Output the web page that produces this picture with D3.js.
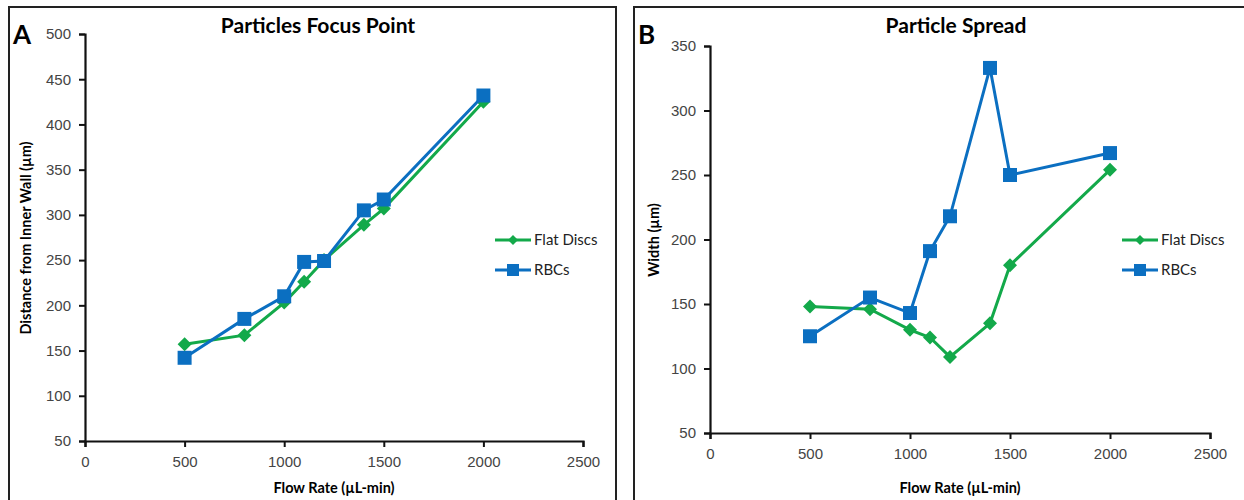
<!DOCTYPE html>
<html>
<head>
<meta charset="utf-8">
<script src="https://cdn.jsdelivr.net/npm/d3@7"></script>
<style>
  body { margin: 0; background: white; }
  svg { font-family: Lato, "Open Sans", sans-serif; }
</style>
</head>
<body>
<svg width="1244" height="500"></svg>
<script>
// data
var flowRates = [500, 800, 1000, 1100, 1200, 1400, 1500, 2000];
var xTicks = [0, 500, 1000, 1500, 2000, 2500];
var seriesNames = ["Flat Discs", "RBCs"];

var focusFlat = [157, 167, 203, 226, 250, 289, 307, 425];
var focusRbc = [142, 185, 210, 248, 249, 305, 317, 432];
var focusTicks = [50, 100, 150, 200, 250, 300, 350, 400, 450, 500];

var spreadFlat = [148, 146, 130, 124, 109, 135, 180, 254];
var spreadRbc = [125, 155, 143, 191, 218, 333, 250, 267];
var spreadTicks = [50, 100, 150, 200, 250, 300, 350];

var green = "#13a94a";
var blue = "#0b6fc1";

function drawPanel(svg, cfg) {
	var g = svg.append("g");

	// panel frame
	g.append("path")
	.attr("d", cfg.frame)
	.attr("fill", "none").attr("stroke", "#222").attr("stroke-width", 2);

	var xScale = d3.scaleLinear().domain([0, 2500]).range([cfg.left, cfg.right]);
	var yScale = d3.scaleLinear().domain(d3.extent(cfg.yTicks)).range([cfg.bottom, cfg.top]);

	var xAxis = d3.axisBottom(xScale).tickValues(xTicks).tickFormat(d3.format("d"))
	.tickSize(6).tickSizeOuter(6).tickPadding(9);
	var yAxis = d3.axisLeft(yScale).tickValues(cfg.yTicks).tickFormat(d3.format("d"))
	.tickSize(6).tickSizeOuter(6).tickPadding(8);

	var gx = g.append("g").attr("transform", "translate(0," + cfg.bottom + ")").call(xAxis);
	var gy = g.append("g").attr("transform", "translate(" + cfg.left + ",0)").call(yAxis);
	[gx, gy].forEach(function(ax){
		ax.select(".domain").attr("stroke", "#111").attr("stroke-width", 2.2);
		ax.selectAll(".tick line").attr("stroke", "#111").attr("stroke-width", 2);
		ax.selectAll(".tick text").attr("fill", "#444").style("font-size", "15px");
	});

	// series
	var series = [
		{name: seriesNames[0], vals: cfg.flat, color: green, marker: "diamond"},
		{name: seriesNames[1], vals: cfg.rbc, color: blue, marker: "square"}
	];
	var line = d3.line().x((d,i)=>xScale(flowRates[i])).y(d=>yScale(d));

	series.forEach(function(s){
		g.append("path").datum(s.vals)
		.attr("d", line).attr("fill", "none")
		.attr("stroke", s.color).attr("stroke-width", 3);
		var pts = g.selectAll(null).data(s.vals).enter().append("path")
		.attr("transform", (d,i)=>"translate(" + xScale(flowRates[i]) + "," + yScale(d) + ")")
		.attr("fill", s.color);
		if (s.marker == "square") {
			pts.attr("d", "M-7,-7H7V7H-7Z");
		} else {
			pts.attr("d", "M0,-7L7,0L0,7L-7,0Z");
		}
	});

	// legend
	series.forEach(function(s, i){
		var ly = cfg.legendY + i * 30;
		g.append("line")
		.attr("x1", cfg.legendX).attr("x2", cfg.legendX + 36)
		.attr("y1", ly).attr("y2", ly)
		.attr("stroke", s.color).attr("stroke-width", 3);
		if (i == 0) {
			g.append("path").attr("d", "M0,-5L5,0L0,5L-5,0Z")
			.attr("transform", "translate(" + (cfg.legendX + 18) + "," + ly + ")").attr("fill", s.color);
		} else {
			g.append("rect").attr("x", cfg.legendX + 12).attr("y", ly - 6)
			.attr("width", 12).attr("height", 12).attr("fill", s.color);
		}
		g.append("text").attr("x", cfg.legendX + 39).attr("y", ly + 5)
		.style("font-size", "15px").attr("fill", "#222").text(s.name);
	});

	// titles
	g.append("text").attr("x", cfg.titleX).attr("y", 33)
	.attr("text-anchor", "middle").style("font-size", "21px").style("font-weight", "bold")
	.text(cfg.title);
	g.append("text").attr("x", cfg.letterX).attr("y", 44)
	.style("font-size", "26px").style("font-weight", "bold").text(cfg.letter);
	g.append("text").attr("x", (cfg.left + cfg.right) / 2).attr("y", 493)
	.attr("text-anchor", "middle").style("font-size", "14.5px").style("font-weight", "bold")
	.text("Flow Rate (µL-min)");
	g.append("text")
	.attr("transform", "translate(" + cfg.yLabelX + "," + cfg.yLabelY + ") rotate(-90)")
	.attr("text-anchor", "middle").style("font-size", "14.5px").style("font-weight", "bold")
	.text(cfg.yLabel);
}

function main(){
	var svg = d3.select("svg");

	drawPanel(svg, {
		frame: "M9,510V7H616V510",
		left: 85, right: 583, top: 34, bottom: 441,
		yTicks: focusTicks, flat: focusFlat, rbc: focusRbc,
		legendX: 495, legendY: 240,
		title: "Particles Focus Point", titleX: 318, letter: "A", letterX: 13,
		yLabel: "Distance from Inner Wall (µm)", yLabelX: 31, yLabelY: 238
	});

	drawPanel(svg, {
		frame: "M634,510V7H1250",
		left: 710, right: 1210, top: 46, bottom: 433,
		yTicks: spreadTicks, flat: spreadFlat, rbc: spreadRbc,
		legendX: 1122, legendY: 240,
		title: "Particle Spread", titleX: 956, letter: "B", letterX: 638,
		yLabel: "Width (µm)", yLabelX: 659, yLabelY: 240
	});
}

window.onload = function() {
	main()
};
</script>
</body>
</html>
